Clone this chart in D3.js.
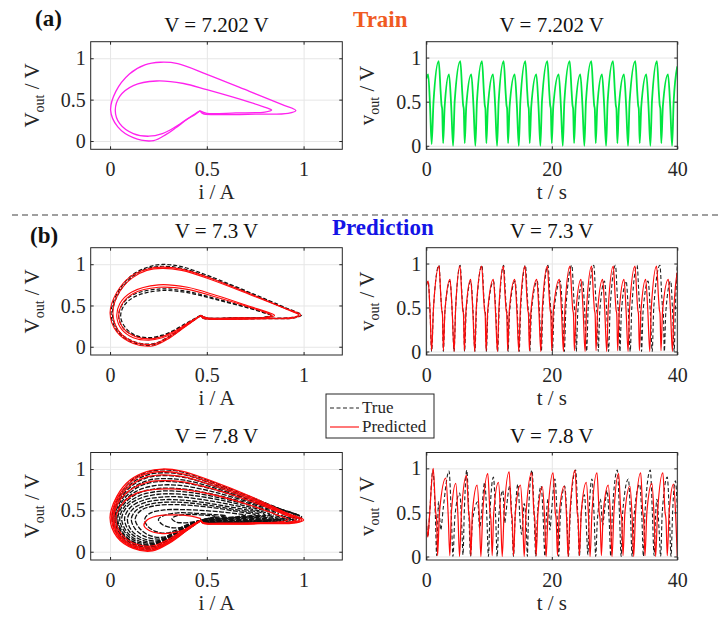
<!DOCTYPE html>
<html>
<head>
<meta charset="utf-8">
<script src="https://cdn.jsdelivr.net/npm/d3@7"></script>
<style>
  body { margin: 0; background: #fff; }
  text { font-family: "Liberation Serif", "Times New Roman", serif; }
</style>
</head>
<body>
<div id="chart"></div>
<script>
// ---- tick values ----
var phaseTicks = [0, 0.5, 1];
var timeTicks = [0, 20, 40];
var voltTicks = [0, 0.5, 1];

// ---- titles ----
var rowTitles = ["V = 7.202 V", "V = 7.3 V", "V = 7.8 V"];

// ---- phase portraits [i, v] (each loop starts and ends at the cusp) ----
var loop7202 = [
  [[0.465,0.365],[0.44,0.32],[0.397,0.26],[0.34,0.16],[0.29,0.08],[0.225,0.005],[0.12,0.04],[0.04,0.17],[0.003,0.37],[0.03,0.6],[0.1,0.81],[0.18,0.92],[0.26,0.952],[0.35,0.935],[0.5,0.805],[0.72,0.6],[0.89,0.44],[0.96,0.37],[0.92,0.335],[0.75,0.325],[0.55,0.32],[0.48,0.33],[0.465,0.365]],
  [[0.465,0.365],[0.44,0.33],[0.4,0.27],[0.33,0.16],[0.27,0.09],[0.2,0.058],[0.12,0.09],[0.05,0.21],[0.027,0.37],[0.05,0.54],[0.12,0.67],[0.24,0.725],[0.38,0.695],[0.5,0.62],[0.72,0.47],[0.81,0.4],[0.835,0.375],[0.8,0.35],[0.65,0.34],[0.5,0.335],[0.465,0.365]]
];

var loop73True = [
  [[0.47,0.38],[0.44,0.33],[0.39,0.25],[0.31,0.12],[0.22,0.02],[0.12,0.05],[0.04,0.18],[0.005,0.4],[0.04,0.66],[0.11,0.86],[0.19,0.96],[0.27,0.997],[0.37,0.97],[0.52,0.85],[0.74,0.64],[0.91,0.47],[0.99,0.385],[0.95,0.35],[0.78,0.34],[0.57,0.335],[0.48,0.345],[0.47,0.38]],
  [[0.47,0.38],[0.44,0.335],[0.39,0.26],[0.31,0.13],[0.22,0.035],[0.12,0.065],[0.045,0.19],[0.012,0.4],[0.045,0.65],[0.115,0.85],[0.19,0.945],[0.27,0.975],[0.37,0.95],[0.52,0.835],[0.74,0.63],[0.9,0.47],[0.98,0.385],[0.94,0.355],[0.78,0.345],[0.57,0.34],[0.48,0.35],[0.47,0.38]],
  [[0.47,0.38],[0.44,0.34],[0.39,0.27],[0.33,0.19],[0.27,0.13],[0.2,0.1],[0.13,0.13],[0.07,0.22],[0.045,0.36],[0.06,0.5],[0.12,0.63],[0.26,0.7],[0.4,0.67],[0.55,0.58],[0.72,0.47],[0.82,0.4],[0.84,0.38],[0.8,0.355],[0.65,0.35],[0.5,0.35],[0.47,0.38]],
  [[0.47,0.38],[0.44,0.345],[0.39,0.28],[0.33,0.2],[0.27,0.14],[0.2,0.11],[0.13,0.14],[0.08,0.23],[0.055,0.36],[0.07,0.49],[0.13,0.61],[0.26,0.68],[0.4,0.655],[0.55,0.57],[0.72,0.465],[0.81,0.4],[0.83,0.38],[0.79,0.355],[0.65,0.35],[0.5,0.35],[0.47,0.38]]
];

var loop73Pred = [
  [[0.47,0.38],[0.44,0.33],[0.39,0.245],[0.31,0.11],[0.22,0.01],[0.12,0.04],[0.035,0.18],[0.0,0.41],[0.035,0.66],[0.105,0.85],[0.19,0.94],[0.27,0.965],[0.37,0.94],[0.52,0.83],[0.74,0.625],[0.9,0.47],[0.985,0.385],[0.95,0.35],[0.78,0.338],[0.57,0.332],[0.48,0.345],[0.47,0.38]],
  [[0.47,0.38],[0.44,0.335],[0.39,0.255],[0.31,0.125],[0.22,0.03],[0.12,0.06],[0.045,0.19],[0.015,0.41],[0.045,0.65],[0.115,0.835],[0.19,0.925],[0.27,0.95],[0.37,0.925],[0.52,0.815],[0.74,0.615],[0.9,0.465],[0.975,0.385],[0.94,0.355],[0.78,0.345],[0.57,0.34],[0.48,0.35],[0.47,0.38]],
  [[0.47,0.38],[0.44,0.335],[0.39,0.26],[0.33,0.17],[0.27,0.11],[0.2,0.08],[0.12,0.11],[0.06,0.21],[0.035,0.36],[0.05,0.52],[0.11,0.66],[0.25,0.75],[0.4,0.72],[0.55,0.62],[0.72,0.49],[0.83,0.405],[0.85,0.38],[0.81,0.352],[0.65,0.345],[0.5,0.345],[0.47,0.38]],
  [[0.47,0.38],[0.44,0.34],[0.39,0.27],[0.33,0.185],[0.27,0.125],[0.2,0.095],[0.13,0.125],[0.07,0.22],[0.045,0.36],[0.06,0.51],[0.12,0.645],[0.25,0.72],[0.4,0.695],[0.55,0.6],[0.72,0.48],[0.815,0.405],[0.835,0.38],[0.8,0.355],[0.65,0.35],[0.5,0.35],[0.47,0.38]]
];

var loop78True = [
  [[0.47,0.38],[0.44,0.33],[0.39,0.25],[0.31,0.12],[0.22,0.025],[0.12,0.055],[0.045,0.19],[0.01,0.4],[0.045,0.66],[0.11,0.86],[0.19,0.96],[0.27,0.99],[0.37,0.965],[0.52,0.85],[0.74,0.65],[0.91,0.49],[0.99,0.42],[0.95,0.38],[0.78,0.36],[0.57,0.345],[0.48,0.35],[0.47,0.38]],
  [[0.47,0.38],[0.44,0.332],[0.39,0.255],[0.31,0.13],[0.22,0.035],[0.12,0.065],[0.047,0.195],[0.015,0.4],[0.047,0.645],[0.115,0.835],[0.195,0.93],[0.275,0.955],[0.375,0.935],[0.525,0.825],[0.74,0.635],[0.905,0.495],[0.98,0.43],[0.94,0.39],[0.775,0.365],[0.57,0.348],[0.48,0.352],[0.47,0.38]],
  [[0.47,0.38],[0.44,0.335],[0.39,0.26],[0.31,0.14],[0.22,0.045],[0.12,0.075],[0.05,0.2],[0.02,0.4],[0.05,0.63],[0.12,0.81],[0.2,0.9],[0.28,0.92],[0.38,0.9],[0.53,0.8],[0.74,0.62],[0.9,0.5],[0.97,0.44],[0.93,0.4],[0.77,0.37],[0.57,0.35],[0.48,0.355],[0.47,0.38]],
  [[0.47,0.38],[0.44,0.338],[0.39,0.265],[0.31,0.148],[0.22,0.055],[0.125,0.083],[0.055,0.205],[0.025,0.4],[0.055,0.615],[0.125,0.785],[0.205,0.868],[0.285,0.885],[0.385,0.865],[0.535,0.775],[0.74,0.61],[0.895,0.5],[0.96,0.445],[0.92,0.405],[0.765,0.375],[0.57,0.355],[0.48,0.358],[0.47,0.38]],
  [[0.47,0.38],[0.44,0.34],[0.39,0.27],[0.31,0.155],[0.22,0.065],[0.13,0.09],[0.06,0.21],[0.03,0.4],[0.06,0.6],[0.13,0.76],[0.21,0.835],[0.29,0.85],[0.39,0.83],[0.54,0.75],[0.74,0.6],[0.89,0.5],[0.95,0.45],[0.91,0.41],[0.76,0.38],[0.57,0.36],[0.48,0.36],[0.47,0.38]],
  [[0.47,0.38],[0.44,0.342],[0.39,0.275],[0.31,0.162],[0.22,0.075],[0.13,0.1],[0.065,0.215],[0.035,0.4],[0.065,0.585],[0.135,0.73],[0.22,0.795],[0.3,0.81],[0.4,0.79],[0.55,0.715],[0.74,0.585],[0.875,0.495],[0.92,0.455],[0.885,0.415],[0.74,0.385],[0.565,0.365],[0.48,0.362],[0.47,0.38]],
  [[0.47,0.38],[0.44,0.345],[0.39,0.28],[0.31,0.17],[0.22,0.085],[0.13,0.11],[0.07,0.22],[0.04,0.4],[0.07,0.57],[0.14,0.7],[0.23,0.76],[0.31,0.77],[0.41,0.75],[0.56,0.68],[0.74,0.57],[0.86,0.49],[0.9,0.46],[0.86,0.42],[0.72,0.39],[0.56,0.37],[0.48,0.365],[0.47,0.38]],
  [[0.47,0.38],[0.44,0.348],[0.39,0.285],[0.31,0.18],[0.225,0.095],[0.14,0.12],[0.08,0.225],[0.05,0.4],[0.08,0.56],[0.15,0.675],[0.24,0.728],[0.32,0.735],[0.42,0.715],[0.57,0.65],[0.74,0.55],[0.845,0.485],[0.87,0.46],[0.835,0.425],[0.7,0.395],[0.555,0.375],[0.48,0.368],[0.47,0.38]],
  [[0.47,0.38],[0.44,0.35],[0.39,0.29],[0.31,0.19],[0.23,0.105],[0.15,0.13],[0.09,0.23],[0.06,0.4],[0.09,0.55],[0.16,0.65],[0.25,0.695],[0.33,0.7],[0.43,0.68],[0.58,0.62],[0.74,0.53],[0.83,0.48],[0.85,0.46],[0.81,0.43],[0.68,0.4],[0.55,0.38],[0.48,0.37],[0.47,0.38]],
  [[0.47,0.38],[0.44,0.352],[0.39,0.295],[0.315,0.2],[0.24,0.12],[0.16,0.145],[0.1,0.245],[0.075,0.4],[0.105,0.535],[0.175,0.625],[0.265,0.66],[0.35,0.665],[0.45,0.64],[0.59,0.585],[0.73,0.515],[0.81,0.47],[0.825,0.455],[0.785,0.43],[0.665,0.405],[0.545,0.385],[0.48,0.372],[0.47,0.38]],
  [[0.47,0.38],[0.44,0.355],[0.39,0.3],[0.32,0.21],[0.25,0.135],[0.17,0.16],[0.11,0.26],[0.09,0.4],[0.12,0.52],[0.19,0.6],[0.28,0.63],[0.37,0.625],[0.47,0.6],[0.6,0.55],[0.72,0.5],[0.79,0.465],[0.8,0.45],[0.76,0.43],[0.65,0.41],[0.54,0.39],[0.48,0.375],[0.47,0.38]],
  [[0.47,0.38],[0.44,0.358],[0.39,0.305],[0.325,0.22],[0.26,0.155],[0.185,0.18],[0.13,0.275],[0.11,0.4],[0.14,0.51],[0.21,0.578],[0.3,0.6],[0.395,0.593],[0.5,0.565],[0.62,0.52],[0.725,0.48],[0.77,0.458],[0.775,0.45],[0.735,0.43],[0.635,0.41],[0.535,0.393],[0.47,0.38]],
  [[0.47,0.38],[0.44,0.36],[0.39,0.31],[0.33,0.23],[0.27,0.175],[0.2,0.2],[0.15,0.29],[0.13,0.4],[0.16,0.5],[0.23,0.555],[0.32,0.57],[0.42,0.56],[0.54,0.53],[0.65,0.49],[0.73,0.46],[0.75,0.45],[0.71,0.43],[0.62,0.41],[0.53,0.395],[0.47,0.38]],
  [[0.47,0.38],[0.44,0.36],[0.39,0.32],[0.34,0.26],[0.29,0.225],[0.23,0.25],[0.19,0.32],[0.18,0.4],[0.21,0.47],[0.28,0.505],[0.37,0.51],[0.47,0.5],[0.58,0.48],[0.67,0.455],[0.7,0.445],[0.66,0.425],[0.57,0.41],[0.5,0.395],[0.47,0.38]],
  [[0.47,0.38],[0.43,0.35],[0.38,0.3],[0.32,0.29],[0.27,0.33],[0.25,0.39],[0.28,0.44],[0.35,0.47],[0.44,0.465],[0.53,0.45],[0.59,0.44],[0.6,0.435],[0.56,0.42],[0.5,0.4],[0.47,0.38]],
  [[0.47,0.38],[0.43,0.36],[0.38,0.35],[0.34,0.36],[0.32,0.4],[0.35,0.44],[0.42,0.45],[0.5,0.44],[0.55,0.43],[0.52,0.41],[0.47,0.38]]
];

var loop78Pred = [
  [[0.47,0.38],[0.44,0.33],[0.39,0.245],[0.31,0.11],[0.22,0.01],[0.12,0.04],[0.035,0.18],[0.0,0.41],[0.035,0.67],[0.105,0.87],[0.19,0.97],[0.27,1.0],[0.37,0.975],[0.52,0.86],[0.74,0.655],[0.91,0.47],[1.0,0.385],[0.96,0.35],[0.79,0.34],[0.57,0.335],[0.48,0.345],[0.47,0.38]],
  [[0.47,0.38],[0.44,0.335],[0.39,0.25],[0.31,0.12],[0.22,0.02],[0.12,0.05],[0.04,0.185],[0.008,0.41],[0.04,0.66],[0.11,0.85],[0.19,0.945],[0.27,0.97],[0.37,0.945],[0.52,0.835],[0.74,0.635],[0.9,0.47],[0.99,0.385],[0.95,0.352],[0.78,0.342],[0.57,0.337],[0.48,0.347],[0.47,0.38]],
  [[0.47,0.38],[0.44,0.34],[0.39,0.26],[0.31,0.13],[0.22,0.035],[0.12,0.065],[0.045,0.195],[0.015,0.41],[0.045,0.645],[0.115,0.82],[0.19,0.905],[0.27,0.93],[0.37,0.91],[0.52,0.81],[0.74,0.62],[0.9,0.465],[0.98,0.385],[0.94,0.355],[0.78,0.345],[0.57,0.34],[0.48,0.35],[0.47,0.38]],
  [[0.47,0.38],[0.44,0.34],[0.39,0.265],[0.31,0.14],[0.22,0.05],[0.12,0.08],[0.05,0.2],[0.02,0.4],[0.05,0.62],[0.12,0.77],[0.2,0.845],[0.28,0.86],[0.38,0.845],[0.53,0.76],[0.74,0.6],[0.89,0.46],[0.96,0.385],[0.92,0.355],[0.77,0.345],[0.57,0.34],[0.48,0.35],[0.47,0.38]],
  [[0.47,0.38],[0.44,0.345],[0.39,0.275],[0.31,0.16],[0.22,0.07],[0.13,0.095],[0.06,0.21],[0.03,0.39],[0.06,0.57],[0.13,0.7],[0.22,0.75],[0.3,0.76],[0.4,0.745],[0.55,0.68],[0.74,0.55],[0.87,0.44],[0.92,0.39],[0.88,0.36],[0.74,0.35],[0.57,0.345],[0.48,0.35],[0.47,0.38]],
  [[0.47,0.4],[0.42,0.43],[0.33,0.445],[0.24,0.43],[0.19,0.38],[0.175,0.32],[0.2,0.26],[0.27,0.22],[0.35,0.24],[0.42,0.3],[0.47,0.38]]
];

// ---- time series [t, v] ----
var ts7202 = [[0,0.76],[0.3,0.81],[0.6,0.45],[0.85,0.02],[1.15,0.5],
  [1.98,0.96],[2.28,0.62],[2.43,0.46],[2.53,0.42],[2.68,0.03],[2.93,0.45],[3.62,0.81],[3.97,0.45],[4.27,0.0],[4.52,0.5],
  [5.42,0.96],[5.72,0.62],[5.87,0.46],[5.97,0.42],[6.12,0.03],[6.37,0.45],[7.17,0.81],[7.52,0.45],[7.82,0.0],[8.07,0.5],
  [8.87,0.96],[9.17,0.62],[9.32,0.46],[9.42,0.42],[9.57,0.03],[9.82,0.45],[10.63,0.81],[10.98,0.45],[11.28,0.0],[11.53,0.5],
  [12.33,0.96],[12.63,0.62],[12.78,0.46],[12.88,0.42],[13.03,0.03],[13.28,0.45],[14.09,0.81],[14.44,0.45],[14.74,0.0],[14.99,0.5],
  [15.78,0.96],[16.08,0.62],[16.23,0.46],[16.33,0.42],[16.48,0.03],[16.73,0.45],[17.53,0.81],[17.88,0.45],[18.18,0.0],[18.43,0.5],
  [19.29,0.96],[19.59,0.62],[19.74,0.46],[19.84,0.42],[19.99,0.03],[20.24,0.45],[21.1,0.81],[21.45,0.45],[21.75,0.0],[22.0,0.5],
  [22.85,0.96],[23.15,0.62],[23.3,0.46],[23.4,0.42],[23.55,0.03],[23.8,0.45],[24.54,0.81],[24.89,0.45],[25.19,0.0],[25.44,0.5],
  [26.3,0.96],[26.6,0.62],[26.75,0.46],[26.85,0.42],[27.0,0.03],[27.25,0.45],[28.0,0.81],[28.35,0.45],[28.65,0.0],[28.9,0.5],
  [29.75,0.96],[30.05,0.62],[30.2,0.46],[30.3,0.42],[30.45,0.03],[30.7,0.45],[31.5,0.81],[31.85,0.45],[32.15,0.0],[32.4,0.5],
  [33.31,0.96],[33.61,0.62],[33.76,0.46],[33.86,0.42],[34.01,0.03],[34.26,0.45],[35.06,0.81],[35.41,0.45],[35.71,0.0],[35.96,0.5],
  [36.75,0.96],[37.05,0.62],[37.2,0.46],[37.3,0.42],[37.45,0.03],[37.7,0.45],[38.52,0.81],[38.87,0.45],[39.17,0.0],[39.42,0.5],[40,0.9]];

var ts73True = [[0,0.75],[0.3,0.8],[0.6,0.45],[0.85,0.0],[1.15,0.5],
  [2.02,0.98],[2.32,0.62],[2.47,0.47],[2.57,0.43],[2.72,0.0],[2.97,0.46],[3.78,0.8],[4.13,0.45],[4.43,0.0],[4.68,0.5],
  [5.4,0.98],[5.7,0.62],[5.85,0.47],[5.95,0.43],[6.1,0.0],[6.35,0.46],[7.1,0.8],[7.45,0.45],[7.75,0.0],[8.0,0.5],
  [8.87,0.98],[9.17,0.62],[9.32,0.47],[9.42,0.43],[9.57,0.0],[9.82,0.46],[10.72,0.8],[11.07,0.45],[11.37,0.0],[11.62,0.5],
  [12.33,0.98],[12.63,0.62],[12.78,0.47],[12.88,0.43],[13.03,0.0],[13.28,0.46],[14.15,0.8],[14.5,0.45],[14.8,0.0],[15.05,0.5],
  [15.8,0.98],[16.1,0.62],[16.25,0.47],[16.35,0.43],[16.5,0.0],[16.75,0.46],[17.68,0.8],[18.03,0.45],[18.33,0.0],[18.58,0.5],
  [19.4,0.98],[19.7,0.62],[19.85,0.47],[19.95,0.43],[20.1,0.0],[20.35,0.46],[21.35,0.8],[21.7,0.45],[22.0,0.0],[22.25,0.5],
  [23.2,0.98],[23.5,0.62],[23.65,0.47],[23.75,0.43],[23.9,0.0],[24.15,0.46],[24.9,0.8],[25.25,0.45],[25.55,0.0],[25.8,0.5],
  [26.7,0.98],[27.0,0.62],[27.15,0.47],[27.25,0.43],[27.4,0.0],[27.65,0.46],[28.4,0.8],[28.75,0.45],[29.05,0.0],[29.3,0.5],
  [30.15,0.98],[30.45,0.62],[30.6,0.47],[30.7,0.43],[30.85,0.0],[31.1,0.46],[31.85,0.8],[32.2,0.45],[32.5,0.0],[32.75,0.5],
  [33.6,0.98],[33.9,0.62],[34.05,0.47],[34.15,0.43],[34.3,0.0],[34.55,0.46],[35.35,0.8],[35.7,0.45],[36.0,0.0],[36.25,0.5],
  [37.23,0.98],[37.53,0.62],[37.68,0.47],[37.78,0.43],[37.93,0.0],[38.18,0.46],[38.95,0.8],[39.25,0.45],[39.5,0.0],[39.7,0.5],[40,0.98]];

var ts73Pred = [[0,0.75],[0.3,0.8],[0.6,0.45],[0.85,0.01],[1.15,0.5],
  [2.02,0.97],[2.32,0.62],[2.47,0.47],[2.57,0.43],[2.72,0.01],[2.97,0.46],[3.78,0.82],[4.13,0.45],[4.43,0.0],[4.68,0.5],
  [5.37,0.97],[5.67,0.62],[5.82,0.47],[5.92,0.43],[6.07,0.01],[6.32,0.46],[7.07,0.82],[7.42,0.45],[7.72,0.0],[7.97,0.5],
  [8.83,0.97],[9.13,0.62],[9.28,0.47],[9.38,0.43],[9.53,0.01],[9.78,0.46],[10.68,0.82],[11.03,0.45],[11.33,0.0],[11.58,0.5],
  [12.27,0.97],[12.57,0.62],[12.72,0.47],[12.82,0.43],[12.97,0.01],[13.22,0.46],[14.09,0.82],[14.44,0.45],[14.74,0.0],[14.99,0.5],
  [15.73,0.97],[16.03,0.62],[16.18,0.47],[16.28,0.43],[16.43,0.01],[16.68,0.46],[17.6,0.82],[17.95,0.45],[18.25,0.0],[18.5,0.5],
  [19.29,0.97],[19.59,0.62],[19.74,0.47],[19.84,0.43],[19.99,0.01],[20.24,0.46],[21.2,0.82],[21.55,0.45],[21.85,0.0],[22.1,0.5],
  [22.9,0.97],[23.2,0.62],[23.35,0.47],[23.45,0.43],[23.6,0.01],[23.85,0.46],[24.65,0.82],[25.0,0.45],[25.3,0.0],[25.55,0.5],
  [26.35,0.97],[26.65,0.62],[26.8,0.47],[26.9,0.43],[27.05,0.01],[27.3,0.46],[28.1,0.82],[28.45,0.45],[28.75,0.0],[29.0,0.5],
  [29.8,0.97],[30.1,0.62],[30.25,0.47],[30.35,0.43],[30.5,0.01],[30.75,0.46],[31.5,0.82],[31.85,0.45],[32.15,0.0],[32.4,0.5],
  [33.26,0.97],[33.56,0.62],[33.71,0.47],[33.81,0.43],[33.96,0.01],[34.21,0.46],[34.96,0.82],[35.31,0.45],[35.61,0.0],[35.86,0.5],
  [36.7,0.97],[37.0,0.62],[37.15,0.47],[37.25,0.43],[37.4,0.01],[37.65,0.46],[38.57,0.82],[38.92,0.45],[39.22,0.0],[39.47,0.5],[40,0.9]];

var ts78True = [[0,0.42],[0.25,0.22],[0.5,0.45],[1.05,0.98],[1.45,0.45],[1.65,0.01],
  [1.95,0.62],[2.3,0.3],[2.7,0.55],[3.62,0.97],[4.0,0.45],[4.25,0.0],[4.55,0.45],
  [5.32,0.72],[5.65,0.35],[5.85,0.02],[6.05,0.5],[6.45,0.98],[6.8,0.45],[7.05,0.0],[7.35,0.4],
  [8.2,0.62],[8.5,0.32],[8.75,0.45],[9.3,0.84],[9.65,0.45],[9.9,0.0],[10.15,0.5],
  [10.7,0.9],[11.05,0.45],[11.3,0.0],[11.55,0.45],[12.2,0.75],[12.5,0.38],[12.7,0.5],[13.3,0.8],[13.65,0.4],[13.9,0.0],[14.15,0.45],
  [14.6,0.82],[14.95,0.4],[15.2,0.25],[15.6,0.6],[15.95,0.3],[16.1,0.0],[16.3,0.5],[16.84,0.98],[17.2,0.45],[17.45,0.0],[17.7,0.45],
  [18.3,0.8],[18.65,0.4],[18.9,0.0],[19.1,0.4],[19.4,0.65],[19.7,0.3],[19.95,0.5],[20.5,0.88],[20.85,0.45],[21.1,0.0],[21.35,0.45],
  [22.05,0.8],[22.4,0.45],[22.65,0.0],[22.95,0.5],[23.8,0.98],[24.15,0.45],[24.4,0.0],[24.65,0.45],
  [25.2,0.7],[25.5,0.35],[25.75,0.02],[25.95,0.5],[26.4,0.88],[26.75,0.45],[27.0,0.0],[27.25,0.4],[27.75,0.65],[28.1,0.35],[28.3,0.45],[28.8,0.75],[29.15,0.4],[29.4,0.0],[29.65,0.5],
  [30.45,0.98],[30.8,0.45],[31.05,0.0],[31.3,0.5],[32.2,0.88],[32.55,0.45],[32.8,0.0],[33.1,0.45],[34.0,0.82],[34.35,0.45],[34.6,0.0],[34.85,0.5],
  [35.7,0.98],[36.05,0.45],[36.3,0.01],[36.5,0.4],[36.75,0.65],[37.1,0.3],[37.35,0.0],[37.6,0.5],[38.4,0.9],[38.75,0.45],[39.0,0.0],[39.25,0.5],[39.7,0.86],[40,0.55]];

var ts78Pred = [[0,0.42],[0.25,0.22],[0.5,0.45],[1.1,1.0],[1.5,0.5],[1.65,0.42],[1.8,0.01],[2.1,0.5],
  [3.1,0.89],[3.5,0.45],[3.75,0.01],[4.0,0.5],[4.7,0.83],[5.05,0.45],[5.3,0.0],[5.6,0.5],
  [6.4,0.92],[6.75,0.5],[6.9,0.42],[7.1,0.01],[7.35,0.5],[8.1,0.81],[8.45,0.45],[8.7,0.0],[9.0,0.5],
  [9.8,0.94],[10.15,0.5],[10.3,0.42],[10.5,0.01],[10.75,0.5],[11.5,0.84],[11.85,0.45],[12.1,0.0],[12.4,0.5],
  [13.2,0.96],[13.55,0.5],[13.7,0.42],[13.9,0.01],[14.2,0.5],[15.0,0.81],[15.35,0.45],[15.6,0.0],[15.9,0.5],
  [16.8,0.95],[17.15,0.5],[17.3,0.42],[17.5,0.01],[17.8,0.5],[18.5,0.79],[18.85,0.45],[19.1,0.0],[19.4,0.5],
  [20.2,0.95],[20.55,0.5],[20.7,0.42],[20.9,0.01],[21.2,0.5],[22.0,0.8],[22.35,0.45],[22.6,0.0],[22.9,0.5],
  [23.7,0.98],[24.05,0.5],[24.2,0.42],[24.4,0.01],[24.7,0.5],[25.5,0.84],[25.85,0.45],[26.1,0.0],[26.4,0.5],
  [27.2,0.95],[27.55,0.5],[27.7,0.42],[27.9,0.01],[28.2,0.5],[29.0,0.81],[29.35,0.45],[29.6,0.0],[29.9,0.5],
  [30.65,0.94],[31.0,0.5],[31.15,0.42],[31.35,0.01],[31.65,0.5],[32.45,0.8],[32.8,0.45],[33.05,0.0],[33.35,0.5],
  [34.17,0.95],[34.5,0.5],[34.65,0.42],[34.85,0.01],[35.15,0.5],[35.95,0.83],[36.3,0.45],[36.55,0.0],[36.85,0.5],
  [37.7,0.95],[38.05,0.5],[38.2,0.42],[38.4,0.01],[38.7,0.5],[39.4,0.82],[39.75,0.45],[40,0.0]];

// ---- layout ----
var svgWidth = 726, svgHeight = 625;
var rowBox = [[41.7, 149.3], [247.7, 355], [452.5, 560]];
var phaseX = [90.7, 342.3];
var timeX = [426.3, 677.3];

var svg = d3.select("#chart").append("svg")
  .attr("width", svgWidth)
  .attr("height", svgHeight)
  .style("background", "#fff");

var axisColor = "#262626";
var fontSerif = "'Liberation Serif', 'Times New Roman', serif";
var clipCount = 0;

// set up one panel: grid, clip group, returns scales
function makePanel(xr, yr, xDom, yDom, xTicks, yTicks) {
  var x = d3.scaleLinear().domain(xDom).range(xr);
  var y = d3.scaleLinear().domain(yDom).range([yr[1], yr[0]]);
  var w = xr[1] - xr[0], h = yr[1] - yr[0];
  var g = svg.append("g");

  g.append("g")
    .attr("transform", `translate(0,${yr[1]})`)
    .call(d3.axisBottom(x).tickValues(xTicks).tickSize(-h).tickFormat(""))
    .call(s => s.select(".domain").remove())
    .selectAll("line").attr("stroke", "#e6e6e6");
  g.append("g")
    .attr("transform", `translate(${xr[0]},0)`)
    .call(d3.axisLeft(y).tickValues(yTicks).tickSize(-w).tickFormat(""))
    .call(s => s.select(".domain").remove())
    .selectAll("line").attr("stroke", "#e6e6e6");

  clipCount++;
  svg.append("clipPath").attr("id", "clip" + clipCount)
    .append("rect").attr("x", xr[0]).attr("y", yr[0]).attr("width", w).attr("height", h);
  var plot = g.append("g").attr("clip-path", `url(#clip${clipCount})`);
  return { x: x, y: y, g: g, plot: plot, xr: xr, yr: yr, xTicks: xTicks, yTicks: yTicks };
}

// box, inner ticks, tick labels, title, axis labels
function finishPanel(p, xFmt, title, xLabel, yMain) {
  var g = p.g, xr = p.xr, yr = p.yr;
  var tick = 3;
  g.append("g").attr("transform", `translate(0,${yr[1]})`)
    .call(d3.axisBottom(p.x).tickValues(p.xTicks).tickSize(-tick).tickFormat(""))
    .call(s => s.select(".domain").remove());
  g.append("g").attr("transform", `translate(0,${yr[0]})`)
    .call(d3.axisTop(p.x).tickValues(p.xTicks).tickSize(-tick).tickFormat(""))
    .call(s => s.select(".domain").remove());
  g.append("g").attr("transform", `translate(${xr[0]},0)`)
    .call(d3.axisLeft(p.y).tickValues(p.yTicks).tickSize(-tick).tickFormat(""))
    .call(s => s.select(".domain").remove());
  g.append("g").attr("transform", `translate(${xr[1]},0)`)
    .call(d3.axisRight(p.y).tickValues(p.yTicks).tickSize(-tick).tickFormat(""))
    .call(s => s.select(".domain").remove());
  g.selectAll(".tick line").filter(function() { return d3.select(this).attr("stroke") !== "#e6e6e6"; })
    .attr("stroke", axisColor);

  g.append("rect")
    .attr("x", xr[0]).attr("y", yr[0])
    .attr("width", xr[1] - xr[0]).attr("height", yr[1] - yr[0])
    .attr("fill", "none").attr("stroke", axisColor).attr("stroke-width", 1);

  // tick labels
  var xl = g.append("g").attr("transform", `translate(0,${yr[1]})`)
    .call(d3.axisBottom(p.x).tickValues(p.xTicks).tickSize(0).tickFormat(xFmt));
  xl.select(".domain").remove();
  xl.selectAll("text").attr("y", 27).attr("dy", 0)
    .attr("font-size", 20).attr("font-family", fontSerif).attr("fill", axisColor);

  var yl = g.append("g").attr("transform", `translate(${xr[0]},0)`)
    .call(d3.axisLeft(p.y).tickValues(p.yTicks).tickSize(0).tickPadding(5).tickFormat(d3.format("")));
  yl.select(".domain").remove();
  yl.selectAll("text").attr("dy", "0.33em")
    .attr("font-size", 20).attr("font-family", fontSerif).attr("fill", axisColor);

  var cx = (xr[0] + xr[1]) / 2, cy = (yr[0] + yr[1]) / 2;
  g.append("text").attr("x", cx).attr("y", yr[0] - 10)
    .attr("text-anchor", "middle").attr("font-size", 21).attr("fill", "#111")
    .text(title);
  g.append("text").attr("x", cx).attr("y", yr[1] + 50)
    .attr("text-anchor", "middle").attr("font-size", 21).attr("fill", axisColor)
    .text(xLabel);

  var yt = g.append("text")
    .attr("transform", `translate(${xr[0] - 52},${cy}) rotate(-90)`)
    .attr("text-anchor", "middle").attr("font-size", 21).attr("fill", axisColor);
  yt.append("tspan").text(yMain);
  yt.append("tspan").attr("font-size", 14).attr("dy", 5).text("out");
  yt.append("tspan").attr("dy", -5).text(" / V");
}

var phaseLine = function(p) {
  return d3.line().x(d => p.x(d[0])).y(d => p.y(d[1])).curve(d3.curveCatmullRom.alpha(0.5));
};
var timeLine = function(p) {
  return d3.line().x(d => p.x(d[0])).y(d => p.y(d[1])).curve(d3.curveMonotoneX);
};

var phaseFmt = d3.format("");
var rows = [
  { phase: [[loop7202, "#ff22ee", 1.3, null]], time: [[ts7202, "#00e640", 1.8, null]] },
  { phase: [[loop73True, "#111", 1.2, "4,2"], [loop73Pred, "#ff0a0a", 1.1, null]],
    time: [[ts73True, "#222", 1.1, "4,2.5"], [ts73Pred, "#ff0a0a", 1.2, null]] },
  { phase: [[loop78True, "#111", 1.3, "5,1.5"], [loop78Pred, "#ff0a0a", 1.3, null]],
    time: [[ts78True, "#222", 1.1, "4,2.5"], [ts78Pred, "#ff0a0a", 1.2, null]] }
];

rows.forEach(function(row, r) {
  var yr = rowBox[r];
  var pp = makePanel(phaseX, yr, [-0.1, 1.2], [-0.1, 1.2], phaseTicks, voltTicks);
  var lp = phaseLine(pp);
  row.phase.forEach(function(s) {
    pp.plot.selectAll(null).data(s[0]).enter().append("path")
      .attr("d", lp)
      .attr("fill", "none")
      .attr("stroke", s[1])
      .attr("stroke-width", s[2])
      .attr("stroke-dasharray", s[3]);
  });
  finishPanel(pp, phaseFmt, rowTitles[r], "i / A", "V");

  var tp = makePanel(timeX, yr, [0, 40], [-0.04, 1.18], timeTicks, voltTicks);
  var lt = timeLine(tp);
  row.time.forEach(function(s) {
    tp.plot.append("path")
      .datum(s[0])
      .attr("d", lt)
      .attr("fill", "none")
      .attr("stroke", s[1])
      .attr("stroke-width", s[2])
      .attr("stroke-dasharray", s[3]);
  });
  finishPanel(tp, d3.format("d"), rowTitles[r], "t / s", "v");
});

// panel tags and section titles
svg.append("text").attr("x", 35).attr("y", 26)
  .attr("font-size", 23).attr("font-weight", "bold").attr("fill", "#111").text("(a)");
svg.append("text").attr("x", 30).attr("y", 243)
  .attr("font-size", 23).attr("font-weight", "bold").attr("fill", "#111").text("(b)");
svg.append("text").attr("x", 353).attr("y", 27)
  .attr("font-size", 23).attr("font-weight", "bold").attr("fill", "#f05a22").text("Train");
svg.append("text").attr("x", 332).attr("y", 235)
  .attr("font-size", 23).attr("font-weight", "bold").attr("fill", "#1414e6").text("Prediction");

// dashed separator
svg.append("line")
  .attr("x1", 12).attr("x2", 722).attr("y1", 215).attr("y2", 215)
  .attr("stroke", "#808080").attr("stroke-width", 1.5).attr("stroke-dasharray", "6,4");

// legend
var legendItems = ["True", "Predicted"];
var legendStyle = [["#222", "4,2.5"], ["#ff0a0a", null]];
var leg = svg.append("g");
leg.append("rect").attr("x", 326).attr("y", 394).attr("width", 108).attr("height", 44)
  .attr("fill", "#fff").attr("stroke", axisColor).attr("stroke-width", 1);
legendItems.forEach(function(name, k) {
  var by = 413 + k * 19;
  leg.append("line").attr("x1", 330).attr("x2", 359).attr("y1", by - 5).attr("y2", by - 5)
    .attr("stroke", legendStyle[k][0]).attr("stroke-width", 1.1)
    .attr("stroke-dasharray", legendStyle[k][1]);
  leg.append("text").attr("x", 362).attr("y", by)
    .attr("font-size", 17).attr("fill", axisColor).text(name);
});
</script>
</body>
</html>
